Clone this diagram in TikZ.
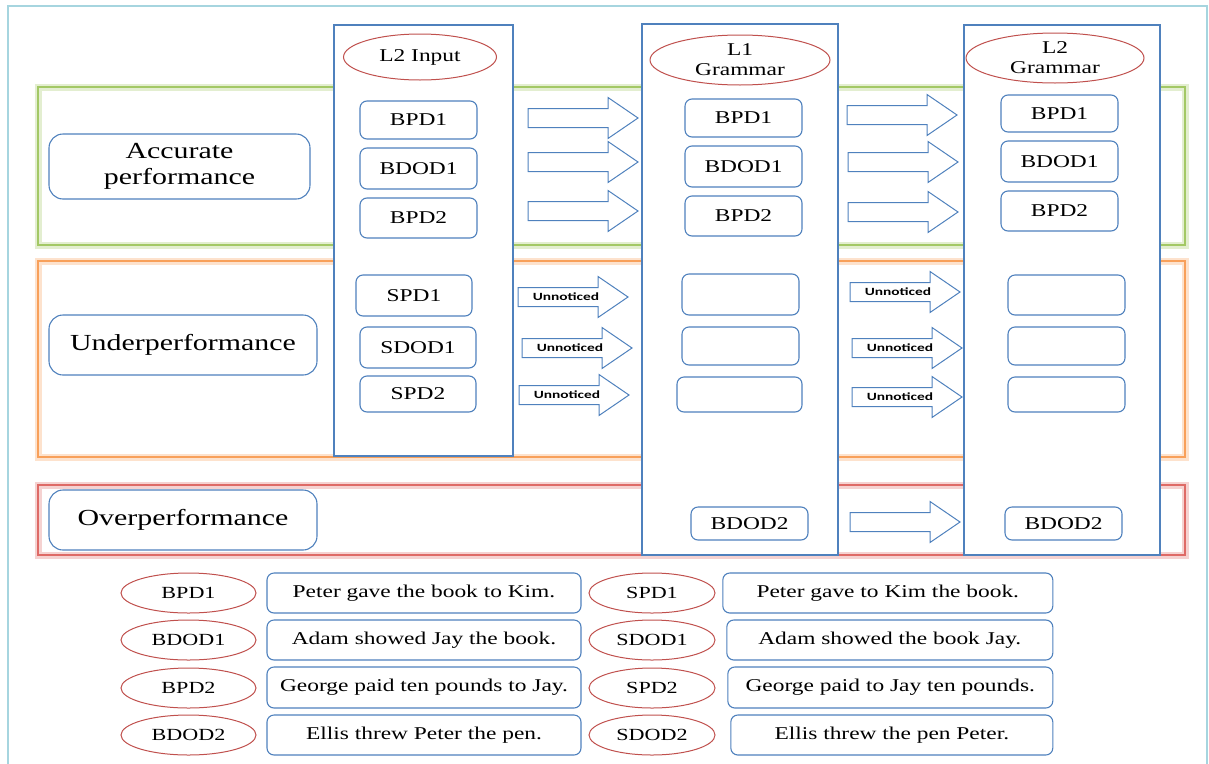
\documentclass[tikz,border=0pt]{standalone}
\usepackage{fontspec}
\setmainfont{Liberation Serif}[FakeStretch=1.3]
\newfontfamily\unfont{Carlito}[FakeStretch=1.4]
\usetikzlibrary{shapes.geometric}
\definecolor{boxblue}{HTML}{4F81BD}
\definecolor{ellred}{HTML}{C0504D}
\definecolor{framecyan}{HTML}{A6D5DF}
\definecolor{bandgreen}{HTML}{A3C865}
\definecolor{bandorange}{HTML}{F8A05A}
\definecolor{bandred}{HTML}{DE6A66}
\newcommand\blockarrow[4][]{%
  \draw[barrow] (#3,#4-9.5) -- (#3+80,#4-9.5) -- (#3+80,#4-20.5) -- (#3+110,#4)
    -- (#3+80,#4+20.5) -- (#3+80,#4+9.5) -- (#3,#4+9.5) -- cycle;
  \coordinate (#2) at (#3+48,#4);
  \if\relax\detokenize{#1}\relax\else\node[unn] at (#2) {#1};\fi}
\begin{document}
\begin{tikzpicture}[x=1pt,y=-1pt,
  box/.style={draw=boxblue, line width=1.1pt, rounded corners=7pt, fill=white, inner sep=0pt, font=\fontsize{18}{20}\selectfont},
  catbox/.style={box, rounded corners=14pt, font=\fontsize{23}{26}\selectfont, align=center},
  lab/.style={draw=ellred, line width=1pt, ellipse, fill=white, inner sep=0pt, align=center, font=\fontsize{18}{20}\selectfont},
  column/.style={draw=boxblue, line width=1.1pt, fill=white, inner sep=0pt},
  band/.style={draw=#1, line width=1.4pt, inner sep=0pt, preaction={draw=#1, line width=7pt, draw opacity=0.3}},
  barrow/.style={draw=boxblue, line width=1pt, fill=white, line join=miter},
  unn/.style={font=\unfont\bfseries\fontsize{11}{12}\selectfont, inner sep=0pt},
  sent/.style={box, font=\fontsize{18}{20}\selectfont},
  leg/.style={lab, font=\fontsize{17}{19}\selectfont, minimum height=40pt}
]
\useasboundingbox (0,0) rectangle (1209,763);
% outer frame
\draw[framecyan, line width=2pt] (8,770) -- (8,6) -- (1207,6) -- (1207,770);
% bands
\node[band=bandgreen, minimum width=1147pt, minimum height=158pt] (accband) at (611.5,166) {};
\node[band=bandorange, minimum width=1147pt, minimum height=196pt] (undband) at (611.5,359) {};
\node[band=bandred, minimum width=1147pt, minimum height=70pt] (ovband) at (611.5,520) {};
% category boxes
\node[catbox, minimum width=261pt, minimum height=65pt] (acc) at (179.5,166.5) {Accurate\\performance};
\node[catbox, minimum width=268pt, minimum height=60pt] (und) at (183,345) {Underperformance};
\node[catbox, minimum width=268pt, minimum height=60pt] (ovr) at (183,520) {Overperformance};
% columns
\node[column, minimum width=179pt, minimum height=431pt] (colIn) at (423.5,240.5) {};
\node[column, minimum width=196pt, minimum height=531pt] (colA) at (740,289.5) {};
\node[column, minimum width=196pt, minimum height=530pt] (colB) at (1062,290) {};
% column headers
\node[lab, minimum width=153pt, minimum height=46pt] (hIn) at (420,57) {L2 Input};
\node[lab, minimum width=180pt, minimum height=50pt] (hA) at (740,60) {L1\\Grammar};
\node[lab, minimum width=178pt, minimum height=50pt] (hB) at (1055,58) {L2\\Grammar};
% L2 input boxes
\node[box, minimum width=117pt, minimum height=38pt] (iBPD1) at (418.5,120) {BPD1};
\node[box, minimum width=117pt, minimum height=41pt] (iBDOD1) at (418.5,168.5) {BDOD1};
\node[box, minimum width=117pt, minimum height=40pt] (iBPD2) at (418.5,218) {BPD2};
\node[box, minimum width=116pt, minimum height=41pt] (iSPD1) at (414,295.5) {SPD1};
\node[box, minimum width=116pt, minimum height=41pt] (iSDOD1) at (418,347.5) {SDOD1};
\node[box, minimum width=116pt, minimum height=36pt] (iSPD2) at (418,394) {SPD2};
% L1 grammar boxes
\node[box, minimum width=117pt, minimum height=38pt] (aBPD1) at (743.5,118) {BPD1};
\node[box, minimum width=117pt, minimum height=41pt] (aBDOD1) at (743.5,166.5) {BDOD1};
\node[box, minimum width=117pt, minimum height=40pt] (aBPD2) at (743.5,216) {BPD2};
\node[box, minimum width=117pt, minimum height=41pt] (aE1) at (740.5,294.5) {};
\node[box, minimum width=117pt, minimum height=38pt] (aE2) at (740.5,346) {};
\node[box, minimum width=125pt, minimum height=35pt] (aE3) at (739.5,394.5) {};
\node[box, minimum width=117pt, minimum height=33pt] (aBDOD2) at (749.5,523.5) {BDOD2};
% L2 grammar boxes
\node[box, minimum width=117pt, minimum height=37pt] (bBPD1) at (1059.5,113.5) {BPD1};
\node[box, minimum width=117pt, minimum height=41pt] (bBDOD1) at (1059.5,161.5) {BDOD1};
\node[box, minimum width=117pt, minimum height=40pt] (bBPD2) at (1059.5,211) {BPD2};
\node[box, minimum width=117pt, minimum height=40pt] (bE1) at (1066.5,295) {};
\node[box, minimum width=117pt, minimum height=38pt] (bE2) at (1066.5,346) {};
\node[box, minimum width=117pt, minimum height=35pt] (bE3) at (1066.5,394.5) {};
\node[box, minimum width=117pt, minimum height=33pt] (bBDOD2) at (1063.5,523.5) {BDOD2};
% block arrows
\blockarrow{arA1}{528}{118}
\blockarrow{arA2}{528}{162}
\blockarrow{arA3}{528}{211}
\blockarrow{arB1}{847}{115}
\blockarrow{arB2}{848}{162}
\blockarrow{arB3}{848}{212}
\blockarrow[Unnoticed]{arU1}{518}{297}
\blockarrow[Unnoticed]{arU2}{522}{348}
\blockarrow[Unnoticed]{arU3}{519}{395}
\blockarrow[Unnoticed]{arV1}{850}{292}
\blockarrow[Unnoticed]{arV2}{852}{348}
\blockarrow[Unnoticed]{arV3}{852}{397}
\blockarrow{arO}{850}{522}
% legend
\node[leg, minimum width=135pt] (lBPD1) at (188.5,593) {BPD1};
\node[leg, minimum width=135pt] (lBDOD1) at (188.5,640) {BDOD1};
\node[leg, minimum width=135pt] (lBPD2) at (188.5,688) {BPD2};
\node[leg, minimum width=135pt] (lBDOD2) at (188.5,735) {BDOD2};
\node[sent, minimum width=314pt, minimum height=40pt] (sBPD1) at (424,593) {Peter gave the book to Kim.};
\node[sent, minimum width=314pt, minimum height=40pt] (sBDOD1) at (424,640) {Adam showed Jay the book.};
\node[sent, minimum width=314pt, minimum height=41pt] (sBPD2) at (424,687.5) {George paid ten pounds to Jay.};
\node[sent, minimum width=314pt, minimum height=40pt] (sBDOD2) at (424,735) {Ellis threw Peter the pen.};
\node[leg, minimum width=126pt] (lSPD1) at (652,593) {SPD1};
\node[leg, minimum width=126pt] (lSDOD1) at (652,640) {SDOD1};
\node[leg, minimum width=126pt] (lSPD2) at (652,688) {SPD2};
\node[leg, minimum width=126pt] (lSDOD2) at (652,735) {SDOD2};
\node[sent, minimum width=330pt, minimum height=40pt] (sSPD1) at (887.8,593) {Peter gave to Kim the book.};
\node[sent, minimum width=326pt, minimum height=40pt] (sSDOD1) at (889.8,640) {Adam showed the book Jay.};
\node[sent, minimum width=325pt, minimum height=41pt] (sSPD2) at (890.3,687.5) {George paid to Jay ten pounds.};
\node[sent, minimum width=322pt, minimum height=40pt] (sSDOD2) at (891.8,735) {Ellis threw the pen Peter.};
\end{tikzpicture}
\end{document}
